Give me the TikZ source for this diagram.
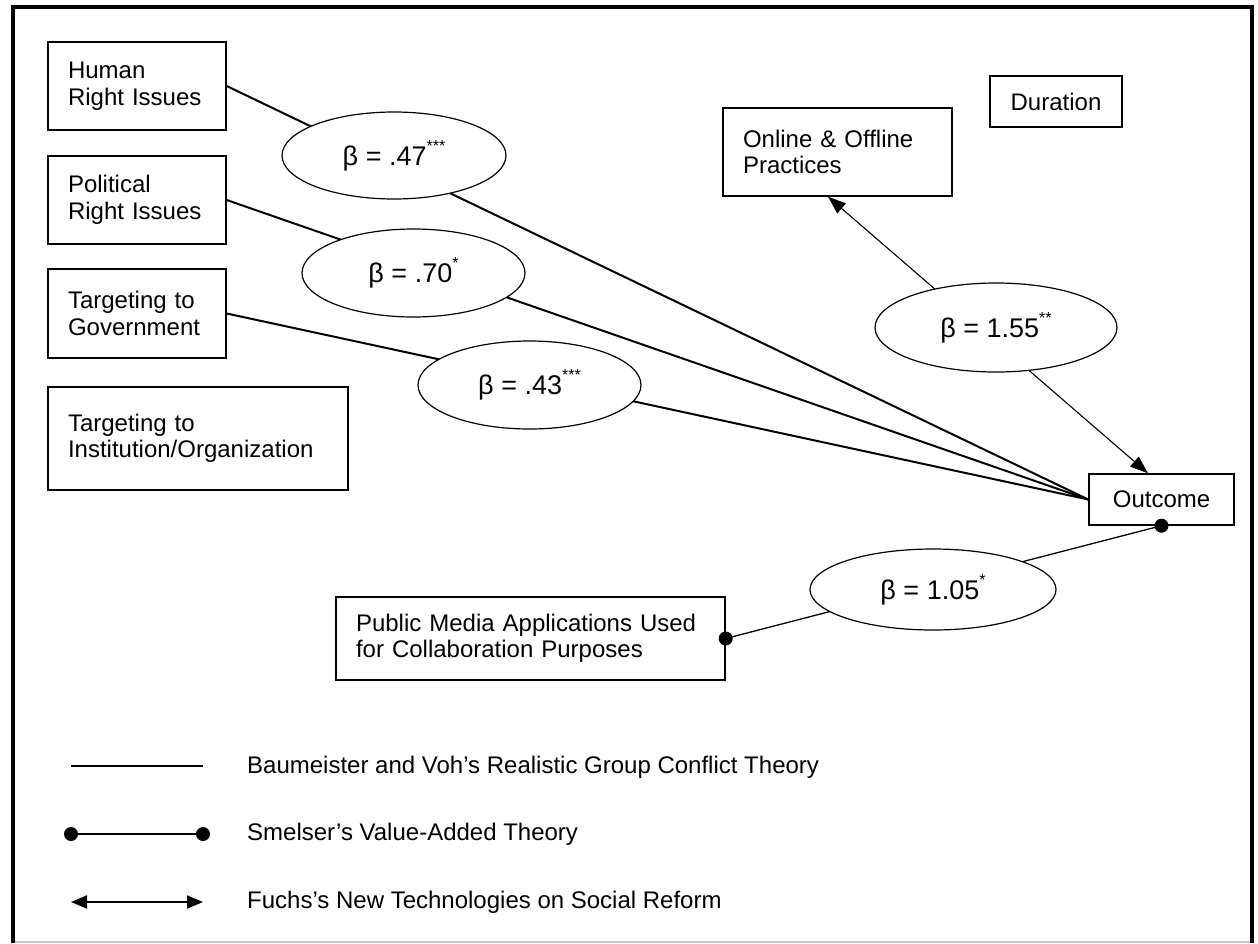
\documentclass[tikz,border=0pt]{standalone}
\usepackage{fontspec}
\setmainfont{Liberation Sans}
\usetikzlibrary{shapes.geometric,arrows.meta}
\newcommand\sigstars[1]{\raisebox{14pt}{\fontsize{16}{16}\selectfont #1}}
\begin{document}
\begin{tikzpicture}[x=1pt,y=-1pt,
  box/.style={draw, line width=1.4pt, inner xsep=20pt, inner ysep=0pt, align=left,
              font=\fontsize{24}{26.5}\selectfont},
  cbox/.style={draw, line width=1.4pt, inner sep=0pt, align=center,
              font=\fontsize{24}{26.5}\selectfont},
  oval/.style={draw, ellipse, fill=white, line width=1.2pt, inner sep=0pt,
              font=\fontsize{27}{30}\selectfont},
  legtext/.style={anchor=base west, inner sep=0pt, font=\fontsize{24}{26.5}\selectfont},
  conn/.style={line width=2pt},
  smel/.style={line width=1.3pt},
  fuchs/.style={line width=1.1pt, {Triangle[length=18pt,width=13pt]}-{Triangle[length=18pt,width=13pt]}},
  legarrow/.style={line width=2pt, {Triangle[length=16pt,width=13pt]}-{Triangle[length=16pt,width=13pt]}},
  dot/.style={fill=black}
]
\useasboundingbox (0,0) rectangle (1258,943);
% frame
\draw[gray!45, line width=1.5pt] (13,942) -- (1252,942);
\draw[line width=4pt] (13,943) -- (13,7) -- (1252,7) -- (1252,943);

% boxes
\node[box, text width=138pt, minimum width=178pt, minimum height=88pt] (human) at (137,86) {Human\\Right Issues};
\node[box, text width=138pt, minimum width=178pt, minimum height=88pt] (polit) at (137,200) {Political\\Right Issues};
\node[box, text width=138pt, minimum width=178pt, minimum height=89pt] (gov) at (137,313.5) {Targeting to\\Government};
\node[box, text width=260pt, minimum width=300pt, minimum height=103pt] (inst) at (198,438.5) {Targeting to\\Institution/Organization};
\node[box, text width=189pt, minimum width=229pt, minimum height=88pt] (online) at (837.5,152) {Online \& Offline\\Practices};
\node[cbox, minimum width=132pt, minimum height=51pt] (dur) at (1056,101.5) {Duration};
\node[cbox, minimum width=145pt, minimum height=51pt] (out) at (1161.5,499.5) {Outcome};
\node[box, text width=349pt, minimum width=389pt, minimum height=83pt] (pub) at (530.5,638.5) {Public Media Applications Used\\for Collaboration Purposes};

% connectors
\draw[conn] (human.east) -- (out.west);
\draw[conn] (polit.east) -- (out.west);
\draw[conn] (gov.east) -- (out.west);
\draw[fuchs] ([xshift=-9.5pt]online.south) -- ([xshift=-13.5pt]out.north);
\draw[smel] (pub.east) -- (out.south);
\fill[dot] (pub.east) circle (7pt);
\fill[dot] (out.south) circle (7pt);

% coefficient ovals
\node[oval, minimum width=224pt, minimum height=87pt] (b47) at (394,155.5) {β = .47\sigstars{***}};
\node[oval, minimum width=223pt, minimum height=88pt] (b70) at (413.5,273) {β = .70\sigstars{*}};
\node[oval, minimum width=223pt, minimum height=88pt] (b43) at (529.5,385) {β = .43\sigstars{***}};
\node[oval, minimum width=242pt, minimum height=89pt] (b155) at (996,327.5) {β = 1.55\sigstars{**}};
\node[oval, minimum width=246pt, minimum height=81pt] (b105) at (933,589.5) {β = 1.05\sigstars{*}};

% legend
\coordinate (l1a) at (71,766);
\coordinate (l1b) at (203,766);
\coordinate (l2a) at (71,834);
\coordinate (l2b) at (203,834);
\coordinate (l3a) at (71,902);
\coordinate (l3b) at (203,902);
\draw[conn] (l1a) -- (l1b);
\draw[smel] (l2a) -- (l2b);
\fill[dot] (l2a) circle (7pt);
\fill[dot] (l2b) circle (7pt);
\draw[legarrow] (l3a) -- (l3b);
\node[legtext] (t1) at (247,773) {Baumeister and Voh’s Realistic Group Conflict Theory};
\node[legtext] (t2) at (247,840) {Smelser’s Value-Added Theory};
\node[legtext] (t3) at (247,908) {Fuchs’s New Technologies on Social Reform};
\end{tikzpicture}
\end{document}
